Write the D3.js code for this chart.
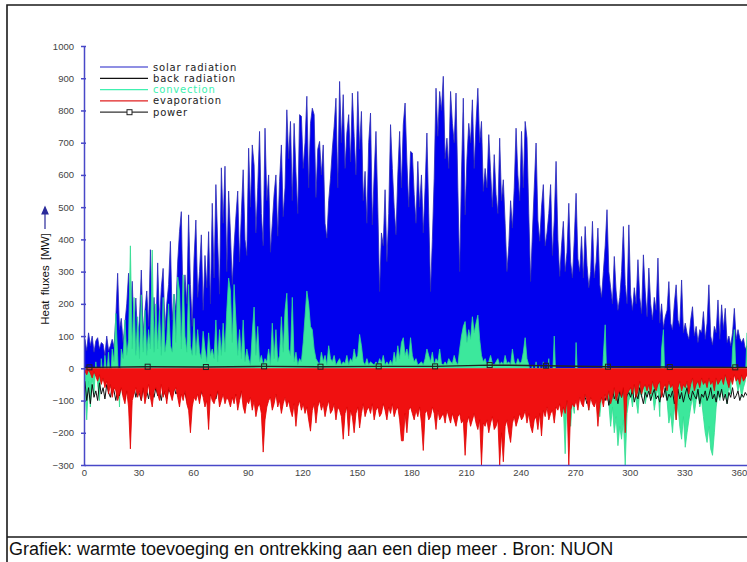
<!DOCTYPE html>
<html>
<head>
<meta charset="utf-8">
<script src="https://cdn.jsdelivr.net/npm/d3@7"></script>
<style>
  body { margin: 0; background: #fff; }
  svg { display: block; }
</style>
</head>
<body>
<div id="visual"></div>
<script>
// daily peak values (MW), day 0..364
const solarRadiation = [
  90, 55, 110, 70, 100, 50, 85, 95, 60, 80,
  75, 40, 100, 55, 70, 90, 65, 160, 295, 120,
  155, 80, 140, 200, 295, 170, 270, 120, 218, 90,
  150, 305, 110, 180, 240, 130, 368, 160, 220, 100,
  327, 140, 250, 310, 120, 200, 260, 394, 150, 230,
  180, 330, 424, 486, 170, 290, 200, 476, 260, 130,
  340, 460, 220, 300, 414, 180, 350, 250, 424, 200,
  512, 280, 570, 390, 230, 622, 450, 627, 300, 550,
  420, 260, 380, 470, 550, 330, 480, 616, 400, 350,
  683, 500, 693, 631, 420, 560, 735, 480, 380, 745,
  520, 600, 360, 450, 540, 600, 410, 580, 693, 470,
  560, 802, 650, 766, 520, 760, 610, 480, 787, 782,
  620, 700, 844, 560, 760, 807, 787, 530, 680, 704,
  600, 693, 450, 404, 520, 590, 680, 750, 838, 560,
  890, 700, 849, 620, 730, 787, 640, 854, 720, 600,
  859, 680, 797, 520, 611, 450, 700, 792, 445, 600,
  735, 500, 238, 420, 380, 554, 331, 480, 756, 620,
  500, 414, 600, 735, 560, 756, 823, 640, 500, 673,
  668, 540, 450, 642, 500, 600, 420, 560, 730, 480,
  238, 400, 590, 869, 720, 859, 800, 906, 650, 714,
  620, 859, 760, 700, 854, 560, 300, 600, 838, 476,
  650, 760, 700, 833, 620, 760, 869, 700, 766, 549,
  620, 560, 725, 611, 500, 663, 540, 480, 714, 520,
  585, 450, 300, 380, 520, 435, 560, 745, 600, 520,
  735, 560, 766, 714, 480, 269, 420, 560, 699, 460,
  394, 500, 570, 380, 420, 480, 570, 350, 460, 642,
  400, 285, 380, 456, 300, 360, 512, 330, 280, 400,
  543, 340, 300, 409, 280, 440, 320, 250, 300, 456,
  280, 330, 435, 260, 220, 300, 380, 492, 300, 250,
  200, 347, 240, 180, 220, 300, 440, 260, 200, 445,
  230, 180, 250, 200, 337, 220, 170, 352, 240, 160,
  311, 200, 150, 220, 180, 342, 140, 200, 124, 160,
  180, 269, 140, 120, 200, 259, 150, 130, 274, 110,
  140, 109, 90, 150, 191, 100, 130, 80, 120, 110,
  176, 90, 140, 259, 100, 72, 130, 110, 212, 90,
  197, 120, 186, 80, 100, 70, 110, 186, 90, 120,
  93, 80, 93, 60, 70
];

const backRadiation = [
  -40, -100, -60, -110, -50, -90, -70, -100, -45, -80, -60, -95, -50, -75, -90, -55, -70, -100, -65, -85,
  -50, -80, -95, -60, -75, -110, -70, -55, -90, -65, -80, -100, -60, -85, -70, -95, -55, -75, -90, -60,
  -85, -70, -100, -60, -80, -95, -65, -75, -90, -55, -80, -70, -95, -60, -85, -75, -100, -65, -80, -90,
  -70, -85, -60, -95, -75, -80, -65, -90, -70, -85, -60, -80, -95, -70, -75, -90, -65, -85, -70, -80,
  -75, -90, -60, -85, -70, -95, -65, -80, -75, -90, -70, -85, -60, -80, -95, -70, -75, -85, -65, -90,
  -80, -70, -90, -65, -85, -75, -95, -70, -80, -60, -85, -75, -90, -70, -80, -65, -95, -75, -85, -70,
  -80, -90, -70, -85, -65, -95, -75, -80, -70, -90, -60, -85, -75, -95, -70, -80, -65, -90, -75, -85,
  -70, -80, -90, -65, -85, -75, -95, -70, -80, -60, -85, -75, -90, -70, -80, -65, -95, -75, -85, -70,
  -80, -90, -70, -85, -65, -95, -75, -80, -70, -90, -60, -85, -75, -95, -70, -80, -65, -90, -75, -85,
  -70, -80, -90, -65, -85, -75, -95, -70, -80, -60, -85, -75, -90, -70, -80, -65, -95, -75, -85, -70,
  -80, -90, -70, -85, -65, -95, -75, -80, -70, -90, -60, -85, -75, -95, -70, -80, -65, -90, -75, -85,
  -70, -80, -90, -65, -85, -75, -95, -70, -80, -60, -85, -75, -90, -70, -80, -65, -95, -75, -85, -70,
  -80, -90, -70, -85, -65, -95, -75, -80, -70, -90, -60, -85, -75, -95, -70, -80, -65, -90, -75, -85,
  -60, -95, -70, -110, -80, -65, -100, -75, -90, -55, -85, -105, -70, -95, -60, -90, -110, -75, -85, -65,
  -95, -70, -105, -80, -60, -90, -100, -75, -115, -85, -65, -95, -80, -110, -70, -90, -60, -100, -85, -75,
  -90, -65, -105, -80, -95, -60, -85, -110, -75, -90, -70, -100, -80, -65, -95, -85, -105, -70, -90, -60,
  -100, -80, -90, -70, -110, -85, -65, -95, -75, -105, -80, -60, -90, -100, -70, -85, -95, -65, -110, -80,
  -90, -70, -100, -85, -60, -95, -80, -105, -70, -90, -65, -100, -80, -110, -75, -90, -60, -95, -85, -70,
  -100, -80, -90, -75, -85
];

const convection = [
  -60, -160, -40, -120, -30, -80, 20, -50, -100, 30,
  -40, 40, -20, 50, -60, 60, 20, 170, 40, -120,
  60, 30, 150, 40, 90, 380, 60, 220, 40, 160,
  30, 228, 50, 180, 40, 120, 60, 367, 50, 200,
  60, 180, 40, 220, 50, 90, 200, 70, 50, 230,
  80, 283, 240, 60, 290, 100, 50, 260, 70, 40,
  155, 40, 120, 50, 30, 115, 60, 20, 110, 40,
  60, 30, 150, 20, 120, 40, 140, 50, 180, 280,
  240, 80, 260, 150, 40, 120, 30, 150, 20, 60,
  30, 10, 110, 190, 40, 130, 20, 40, 10, 30,
  20, 60, 10, 140, 30, 120, 20, 40, 160, 50,
  180, 233, 60, 40, 220, 20, 50, 10, 30, 20,
  80, 160, 240, 200, 130, 120, 60, 30, 20, 10,
  50, 20, 40, 10, 70, 30, 20, 40, 10, 20,
  30, 10, 20, 15, 40, 10, 30, 20, 60, 30,
  40, 105, 70, 20, 10, 30, 10, 20, 15, 10,
  20, 10, 30, 15, 40, 10, 20, 10, 25, 10,
  50, 20, 70, 30, 80, 95, 40, 60, 30, 95,
  40, 20, 30, 10, 15, 20, 10, 30, 60, 40,
  20, 50, 10, 30, 20, 60, 15, 10, 20, 10,
  30, 20, 15, 40, 20, 10, 60, 100, 130, 145,
  80, 120, 90, 160, 110, 140, 165, 90, 40, 20,
  30, 10, 20, 40, 15, 10, 20, 30, 10, 20,
  10, 40, 15, 20, 10, 60, 20, 10, 30, 15,
  20, 50, 95, 30, 10, -20, 10, -30, 20, -40,
  10, -60, 20, -50, -30, 30, -80, -40, 100, -60,
  -30, -90, -50, -120, -265, -80, -60, -180, -100, -140,
  80, -60, -90, -40, -110, -70, -50, -130, -80, -60,
  -100, -40, -70, -150, -90, 40, 135, -60, -110, -180,
  -120, -200, -150, -240, -180, -220, -160, -300, -140, -100,
  -80, -120, -60, -100, -140, -70, -90, -50, -110, -80,
  -60, -100, -70, -130, -90, -60, -150, 60, 120, -80,
  -100, -170, -140, -200, -120, -160, -110, -180, -220, -150,
  -245, -200, -160, -120, -90, -140, -100, -80, -120, -100,
  -150, -200, -230, -180, -250, -270, -200, -120, -80, -100,
  -60, -90, -70, -110, -50, -80, 60, 120, -40, -70,
  -50, -90, -60, -40, 110
];

const evaporation = [
  -10, -20, -5, -15, -30, -10, -25, -40, -20, -50,
  -30, -60, -40, -80, -50, -90, -60, -70, -100, -80,
  -60, -90, -110, -70, -120, -250, -100, -80, -60, -90,
  -70, -100, -60, -110, -80, -50, -90, -120, -70, -60,
  -80, -100, -50, -90, -70, -110, -60, -80, -100, -70,
  -60, -90, -120, -80, -100, -70, -110, -130, -200, -120,
  -90, -100, -80, -110, -70, -90, -120, -100, -190, -80,
  -100, -110, -90, -70, -120, -100, -80, -110, -90, -100,
  -120, -90, -110, -80, -130, -100, -70, -120, -140, -100,
  -110, -90, -130, -100, -150, -120, -110, -140, -260, -160,
  -120, -100, -90, -130, -110, -80, -120, -100, -140, -110,
  -90, -120, -100, -130, -150, -110, -180, -120, -100, -130,
  -110, -140, -120, -160, -195, -130, -110, -170, -120, -100,
  -130, -110, -150, -120, -100, -140, -130, -110, -160, -120,
  -130, -150, -220, -140, -120, -210, -130, -150, -200, -140,
  -120, -185, -140, -110, -150, -130, -120, -140, -110, -160,
  -130, -120, -150, -140, -110, -130, -160, -120, -140, -110,
  -150, -130, -120, -160, -225, -225, -140, -200, -130, -120,
  -140, -160, -130, -150, -120, -170, -255, -140, -130, -160,
  -150, -120, -140, -190, -130, -160, -150, -140, -170, -130,
  -150, -170, -140, -160, -180, -150, -140, -170, -160, -270,
  -170, -150, -180, -160, -140, -170, -190, -160, -300, -170,
  -180, -160, -200, -170, -150, -190, -180, -160, -300, -200,
  -290, -180, -160, -200, -230, -170, -150, -180, -160, -140,
  -160, -150, -130, -170, -140, -180, -200, -160, -150, -190,
  -140, -210, -130, -150, -120, -160, -140, -130, -170, -120,
  -130, -110, -150, -120, -140, -100, -300, -130, -110, -120,
  -100, -130, -90, -110, -120, -80, -100, -130, -90, -110,
  -120, -100, -180, -110, -90, -120, -80, -100, -70, -110,
  -90, -60, -100, -80, -70, -90, -60, -200, -80, -70,
  -60, -80, -50, -90, -70, -40, -80, -60, -50, -70,
  -50, -80, -40, -60, -70, -50, -40, -90, -60, -50,
  -70, -40, -60, -50, -80, -160, -60, -40, -70, -50,
  -60, -40, -80, -50, -30, -70, -50, -40, -60, -30,
  -50, -40, -60, -30, -50, -40, -70, -30, -50, -40,
  -30, -50, -20, -40, -60, -30, -50, -20, -40, -30,
  -50, -20, -40, -30, -20
];

// power: a few points along the year, with markers
const powerDays = [0, 3, 35, 67, 99, 130, 162, 193, 223, 254, 288, 322, 358, 365];
const powerValues = [3, 3, 5, 4, 6, 5, 6, 6, 10, 8, 5, 4, 3, 3];

const xTicks = [0, 30, 60, 90, 120, 150, 180, 210, 240, 270, 300, 330, 360];
const yTicks = [-300, -200, -100, 0, 100, 200, 300, 400, 500, 600, 700, 800, 900, 1000];

const legendNames = ["solar radiation", "back radiation", "convection", "evaporation", "power"];
const legendColors = ["#2020c8", "#111111", "#40f0b0", "#e02020", "#333333"];

const width = 747, height = 562;
const font = "'Liberation Sans', Arial, sans-serif";

const svg = d3.select("#visual")
    .append("svg")
    .attr("width", width)
    .attr("height", height);

// frame and caption box
svg.append("path")
    .attr("d", "M7,562 V5 H747 M7,537 H747")
    .attr("fill", "none")
    .attr("stroke", "#1a1a1a")
    .attr("stroke-width", 1.6);

svg.append("text")
    .attr("x", 9)
    .attr("y", 555)
    .attr("font-family", font)
    .attr("font-size", 18)
    .attr("fill", "#111")
    .text("Grafiek: warmte toevoeging en ontrekking aan een diep meer . Bron: NUON");

// scales
const x = d3.scaleLinear().domain([0, 365]).range([84, 748]);
const y = d3.scaleLinear().domain([-300, 1000]).range([465, 46]);

svg.append("clipPath").attr("id", "plot")
    .append("rect").attr("x", 84).attr("y", 40).attr("width", 663).attr("height", 426);

const plot = svg.append("g").attr("clip-path", "url(#plot)");

// one point per day at midday, closed to zero at both ends
function dayPoints(vals) {
    const pts = [[0, 0]];
    vals.forEach((v, i) => pts.push([i + 0.5, v]));
    pts.push([vals.length, 0]);
    return pts;
}

const area = d3.area().x(d => x(d[0])).y0(y(0)).y1(d => y(d[1]));
const line = d3.line().x(d => x(d[0])).y(d => y(d[1]));

function drawSeries(vals, fill, stroke) {
    const pts = dayPoints(vals);
    plot.append("path").attr("d", area(pts)).attr("fill", fill).attr("stroke", "none");
    plot.append("path").attr("d", line(pts)).attr("fill", "none")
        .attr("stroke", stroke).attr("stroke-width", 0.8);
}

drawSeries(solarRadiation, "#0000ee", "#2828b8");
drawSeries(convection, "#3ce89c", "#30dc90");

plot.append("path")
    .attr("d", line(backRadiation.map((v, i) => [i + 0.5, v])))
    .attr("fill", "none")
    .attr("stroke", "#111")
    .attr("stroke-width", 1);

drawSeries(evaporation, "#f01010", "#e00000");

// power line with square markers
const powerPts = powerDays.map((d, i) => [d, powerValues[i]]);
plot.append("path")
    .attr("d", line(powerPts))
    .attr("fill", "none")
    .attr("stroke", "#222")
    .attr("stroke-width", 1.4);
plot.selectAll("rect.pw")
    .data(powerPts.slice(1, -1))
    .enter()
    .append("rect")
    .attr("class", "pw")
    .attr("x", d => x(d[0]) - 2.5)
    .attr("y", d => y(d[1]) - 2.5)
    .attr("width", 5)
    .attr("height", 5)
    .attr("fill", "none")
    .attr("stroke", "#222")
    .attr("stroke-width", 1);

// axes
const axisColor = "#4848c8";

const yAxis = svg.append("g")
    .attr("transform", "translate(84,0)")
    .call(d3.axisLeft(y).tickValues(yTicks).tickFormat(d3.format("d"))
        .tickSizeInner(3).tickSizeOuter(0).tickPadding(7));
yAxis.select(".domain").attr("stroke", axisColor).attr("stroke-width", 1.5);
yAxis.selectAll(".tick line").attr("stroke", axisColor).attr("x1", 2).attr("stroke-width", 1.5);
yAxis.selectAll(".tick text").attr("font-family", font).attr("font-size", 9.5).attr("fill", "#444");

const xAxis = svg.append("g")
    .attr("transform", "translate(0,465)")
    .call(d3.axisBottom(x).tickValues(xTicks).tickSize(0).tickPadding(4));
xAxis.select(".domain").attr("stroke", axisColor).attr("stroke-width", 1.5);
xAxis.selectAll(".tick text").attr("font-family", font).attr("font-size", 9.5).attr("fill", "#444");

// y axis title with arrow
svg.append("text")
    .attr("transform", "translate(49,279) rotate(-90)")
    .attr("text-anchor", "middle")
    .attr("font-family", font)
    .attr("font-size", 11.5)
    .attr("word-spacing", 2)
    .attr("fill", "#111")
    .text("Heat fluxes [MW]");
svg.append("path")
    .attr("d", "M45,229 V210 M42,214 L45,207 L48,214 Z")
    .attr("stroke", "#2a2a9a")
    .attr("fill", "#2a2a9a")
    .attr("stroke-width", 1.2);

// legend
const legend = svg.append("g").attr("transform", "translate(100,67)");
legendNames.forEach((name, i) => {
    const g = legend.append("g").attr("transform", "translate(0," + (i * 11.3) + ")");
    g.append("line").attr("x1", 0).attr("x2", 48)
        .attr("stroke", legendColors[i]).attr("stroke-width", 1.2);
    if (name === "power") {
        g.append("rect").attr("x", 27).attr("y", -2.5).attr("width", 5).attr("height", 5)
            .attr("fill", "#fff").attr("stroke", "#222");
    }
    g.append("text")
        .attr("x", 53)
        .attr("dy", "0.35em")
        .attr("font-family", "'DejaVu Sans', sans-serif")
        .attr("font-size", 10)
        .attr("letter-spacing", 0.8)
        .attr("fill", name === "convection" ? "#40f0b0" : "#222")
        .text(name);
});
</script>
</body>
</html>
